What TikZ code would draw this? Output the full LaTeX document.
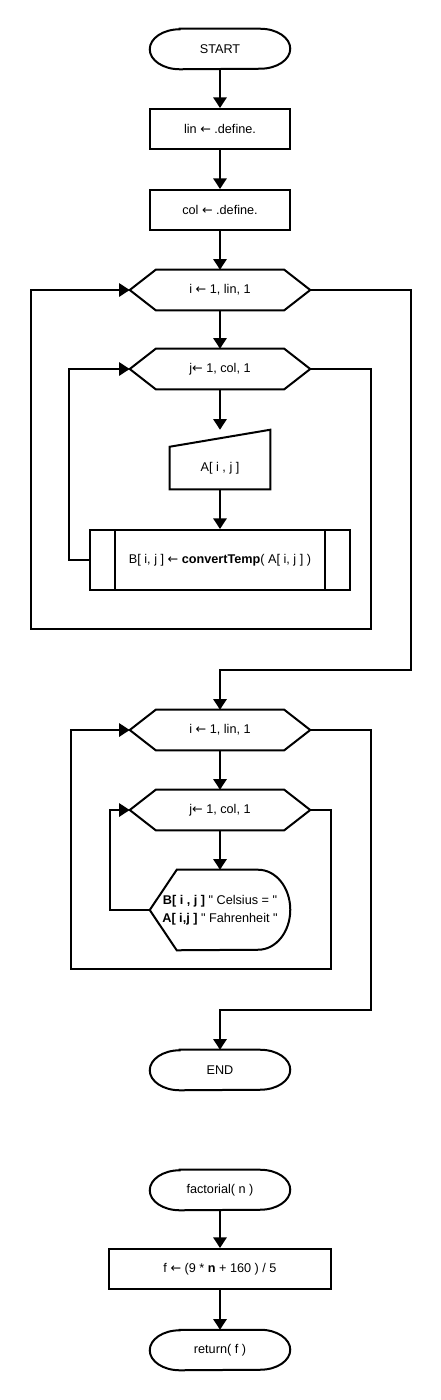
\documentclass[tikz,border=0pt]{standalone}
\usepackage{fontspec}
\setmainfont{Liberation Sans}
\newfontfamily\arrowfont{DejaVu Sans}
\usetikzlibrary{arrows.meta,calc}

\newcommand{\larrow}{{\arrowfont ←}}

\tikzset{
  fline/.style={line width=1.5pt},
  arr/.style={line width=1.5pt, -{Triangle[length=8pt,width=10pt]}},
  txt/.style={inner sep=0pt, align=center, font=\fontsize{9.5}{13.5}\selectfont},
  term/.style={txt, minimum width=105pt, minimum height=30pt},
  proc/.style={txt, draw, line width=1.5pt, minimum width=105pt, minimum height=30pt},
  loopbox/.style={txt, minimum width=135pt, minimum height=30pt},
  inbox/.style={txt, minimum width=75pt, minimum height=31.5pt},
  dispbox/.style={txt, minimum width=105pt, minimum height=60pt}
}

% outlines drawn round the named nodes
\newcommand{\termout}[1]{\draw[fline] ($(#1.north west)+(30,0)$) -- ($(#1.north east)+(-30,0)$) arc[start angle=-90,end angle=90,x radius=30,y radius=20] -- ($(#1.south west)+(30,0)$) arc[start angle=90,end angle=270,x radius=30,y radius=20] -- cycle;}
\newcommand{\hexout}[1]{\draw[fline] (#1.west) -- ($(#1.north west)+(26,0)$) -- ($(#1.north east)+(-26,0)$) -- (#1.east) -- ($(#1.south east)+(-26,0)$) -- ($(#1.south west)+(26,0)$) -- cycle;}

\begin{document}
\begin{tikzpicture}[x=0.75pt,y=0.75pt,yscale=-1,xscale=1]
	\useasboundingbox (0,0) rectangle (440,1400);

	% Main program
	\node[term] (start) at (220,49) {START};
	\termout{start}
	\node[proc] (lin) at (220,129) {lin \larrow{} .define.};
	\node[proc] (col) at (220,210) {col \larrow{} .define.};

	% Loop i
	\node[loopbox] (i1) at (220,290) {i \larrow{} 1, lin, 1};
	\hexout{i1}
	% Loop j
	\node[loopbox] (j1) at (220,369) {j\larrow{} 1, col, 1};
	\hexout{j1}
	% Shape: Manual input
	\node[inbox] (ain) at (220,468) {A[ i , j ]};
	\draw[fline] (ain.south west) -- (ain.north west) -- ($(ain.north east)+(0,-17)$) -- (ain.south east) -- cycle;
	% Shape: Predefined process
	\node[proc, minimum width=195pt, minimum height=45pt] (conv) at (220,560) {B[ i, j ] \larrow{} \textbf{convertTemp}( A[ i, j ] )};
	\draw[fline] ($(conv.north west)+(26,0)$) -- ($(conv.south west)+(26,0)$);
	\draw[fline] ($(conv.north east)+(-26,0)$) -- ($(conv.south east)+(-26,0)$);

	% Loop i
	\node[loopbox] (i2) at (220,730) {i \larrow{} 1, lin, 1};
	\hexout{i2}
	% Loop j
	\node[loopbox] (j2) at (220,810) {j\larrow{} 1, col, 1};
	\hexout{j2}
	% Shape: Display
	\node[dispbox] (disp) at (220,910) {\textbf{B[ i , j ]} \textquotedbl{} Celsius = \textquotedbl\\\textbf{A[ i,j ]} \textquotedbl{} Fahrenheit \textquotedbl};
	\draw[fline] (disp.west) -- ($(disp.north west)+(27,0)$) -- ($(disp.north east)+(-32,0)$) arc[start angle=-90,end angle=90,x radius=32,y radius=40] -- ($(disp.south west)+(27,0)$) -- cycle;

	\node[term] (stop) at (220,1070) {END};
	\termout{stop}

	% Function
	\node[term] (fact) at (220,1190) {factorial( n )};
	\termout{fact}
	\node[proc, minimum width=166.5pt] (fbox) at (220,1269) {f \larrow{} (9 * \textbf{n} + 160 ) / 5};
	\node[term] (ret) at (220,1350) {return( f )};
	\termout{ret}

	% Straight Lines
	\draw[arr] (start.south) -- (lin.north);
	\draw[arr] (lin.south) -- (col.north);
	\draw[arr] (col.south) -- (i1.north);
	\draw[arr] (i1.south) -- (j1.north);
	\draw[arr] (j1.south) -- ($(ain.north)+(0,-17)$);
	\draw[arr] (ain.south) -- (conv.north);
	\draw[arr] (conv.west) -- ++(-20,0) |- (j1.west);
	\draw[arr] (j1.east) -| ++(61,260) -| ++(-340,-339) -- (i1.west);
	\draw[arr] (i1.east) -| ++(101,380) -| (i2.north);

	\draw[arr] (i2.south) -- (j2.north);
	\draw[arr] (j2.south) -- (disp.north);
	\draw[arr] (disp.west) -- ++(-40,0) |- (j2.west);
	\draw[arr] (j2.east) -| ++(21,159) -| ++(-260,-239) -- (i2.west);
	\draw[arr] (i2.east) -| ++(61,280) -| (stop.north);

	\draw[arr] (fact.south) -- (fbox.north);
	\draw[arr] (fbox.south) -- (ret.north);

\end{tikzpicture}
\end{document}
